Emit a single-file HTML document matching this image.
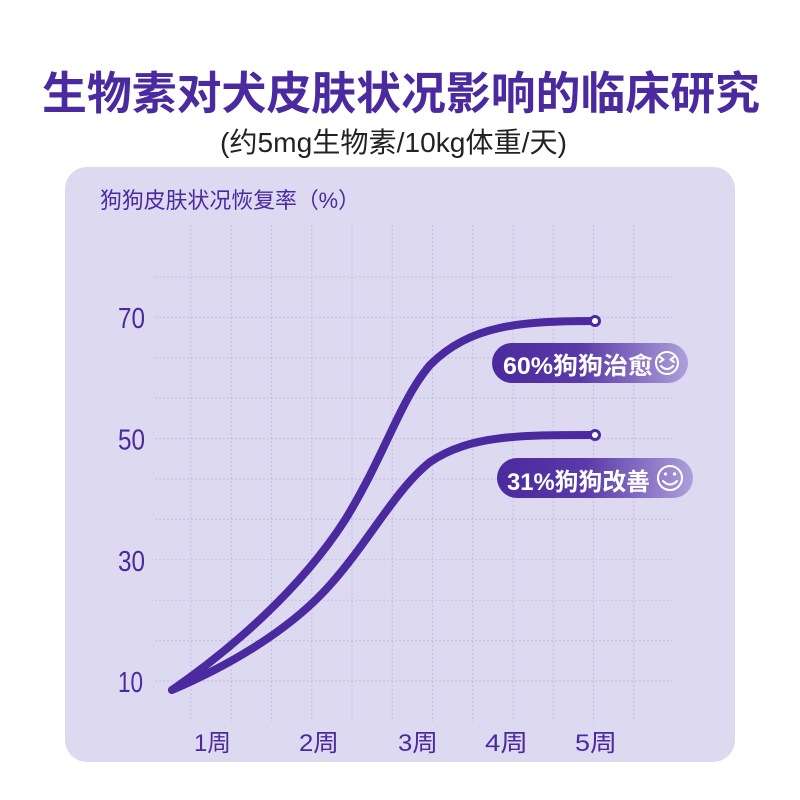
<!DOCTYPE html>
<html>
<head>
<meta charset="utf-8">
<style>
  html,body{margin:0;padding:0;background:#ffffff;}
  svg{display:block;}
  text{font-family:"Liberation Sans","Noto Sans CJK SC",sans-serif;}
</style>
</head>
<body>
<svg width="800" height="800" viewBox="0 0 800 800" xmlns="http://www.w3.org/2000/svg">
  <defs>
    <linearGradient id="pill" x1="0" y1="0" x2="1" y2="0">
      <stop offset="0" stop-color="#4a2a9d"/>
      <stop offset="0.45" stop-color="#5a3aa8"/>
      <stop offset="1" stop-color="#ad9fda"/>
    </linearGradient>
  </defs>
  <rect x="0" y="0" width="800" height="800" fill="#ffffff"/>

  <!-- Title -->
  <text x="42" y="109" font-size="45" font-weight="bold" fill="#4b2a9f" textLength="718" lengthAdjust="spacingAndGlyphs">生物素对犬皮肤状况影响的临床研究</text>
  <text x="220" y="152" font-size="28" fill="#222222" textLength="347" lengthAdjust="spacingAndGlyphs">(约5mg生物素/10kg体重/天)</text>

  <!-- Panel -->
  <rect x="65" y="167" width="670" height="595" rx="22" ry="22" fill="#dcd9f1"/>

  <!-- Y axis title -->
  <text x="100" y="208" font-size="22" fill="#4b2a9f" textLength="260" lengthAdjust="spacingAndGlyphs">狗狗皮肤状况恢复率（%）</text>

  <!-- Grid -->
  <g stroke="#c3bde0" stroke-width="1" stroke-dasharray="2,2" fill="none">
    <line x1="191" y1="225" x2="191" y2="722"/>
    <line x1="231.25" y1="225" x2="231.25" y2="722"/>
    <line x1="271.5" y1="225" x2="271.5" y2="722"/>
    <line x1="311.75" y1="225" x2="311.75" y2="722"/>
    <line x1="352" y1="225" x2="352" y2="722"/>
    <line x1="392.25" y1="225" x2="392.25" y2="722"/>
    <line x1="432.5" y1="225" x2="432.5" y2="722"/>
    <line x1="472.75" y1="225" x2="472.75" y2="722"/>
    <line x1="513" y1="225" x2="513" y2="722"/>
    <line x1="553.25" y1="225" x2="553.25" y2="722"/>
    <line x1="593.5" y1="225" x2="593.5" y2="722"/>
    <line x1="633.75" y1="225" x2="633.75" y2="722"/>

    <line x1="155" y1="277" x2="672" y2="277"/>
    <line x1="155" y1="317.4" x2="672" y2="317.4"/>
    <line x1="155" y1="357.8" x2="672" y2="357.8"/>
    <line x1="155" y1="398.2" x2="672" y2="398.2"/>
    <line x1="155" y1="438.6" x2="672" y2="438.6"/>
    <line x1="155" y1="479" x2="672" y2="479"/>
    <line x1="155" y1="519.4" x2="672" y2="519.4"/>
    <line x1="155" y1="559.8" x2="672" y2="559.8"/>
    <line x1="155" y1="600.2" x2="672" y2="600.2"/>
    <line x1="155" y1="640.6" x2="672" y2="640.6"/>
    <line x1="155" y1="681" x2="672" y2="681"/>
  </g>

  <!-- Y labels -->
  <g font-size="29" fill="#4b2a9f">
    <text x="118" y="328" textLength="27" lengthAdjust="spacingAndGlyphs">70</text>
    <text x="118" y="449.5" textLength="27" lengthAdjust="spacingAndGlyphs">50</text>
    <text x="118" y="571" textLength="27" lengthAdjust="spacingAndGlyphs">30</text>
    <text x="118" y="692" textLength="25" lengthAdjust="spacingAndGlyphs">10</text>
  </g>

  <!-- X labels -->
  <g font-size="24" fill="#4b2a9f">
    <text x="194" y="751" textLength="37" lengthAdjust="spacingAndGlyphs">1周</text>
    <text x="299" y="751" textLength="40" lengthAdjust="spacingAndGlyphs">2周</text>
    <text x="398" y="751" textLength="40" lengthAdjust="spacingAndGlyphs">3周</text>
    <text x="485" y="751" textLength="43" lengthAdjust="spacingAndGlyphs">4周</text>
    <text x="575" y="751" textLength="42" lengthAdjust="spacingAndGlyphs">5周</text>
  </g>

  <!-- Curves -->
  <g fill="none" stroke="#4a2a9e" stroke-width="8" stroke-linecap="round" stroke-linejoin="round">
    <path d="M172,690 C230,650 300,590 345,520 C385,455 400,400 430,365 C470,325 520,321 595,321"/>
    <path d="M172,690 C230,665 290,630 330,585 C370,540 395,490 430,462 C470,435 520,435 595,435"/>
  </g>
  <circle cx="595" cy="321" r="4.5" fill="#ffffff" stroke="#4a2a9e" stroke-width="3"/>
  <circle cx="595" cy="435" r="4.5" fill="#ffffff" stroke="#4a2a9e" stroke-width="3"/>

  <!-- Pill 1 -->
  <rect x="492" y="343" width="196" height="40" rx="20" ry="20" fill="url(#pill)"/>
  <text x="503" y="374" font-size="24" font-weight="600" fill="#ffffff" textLength="150" lengthAdjust="spacingAndGlyphs">60%狗狗治愈</text>
  <g fill="none" stroke="#ffffff" stroke-width="2" stroke-linecap="round" stroke-linejoin="round">
    <circle cx="667" cy="363" r="11"/>
    <polyline points="660,357 663.5,359.5 660,362"/>
    <polyline points="674,357 670.5,359.5 674,362"/>
    <path d="M661,366 Q667,372 673,366"/>
  </g>

  <!-- Pill 2 -->
  <rect x="497" y="458" width="196" height="40" rx="20" ry="20" fill="url(#pill)"/>
  <text x="507" y="490" font-size="24" font-weight="600" fill="#ffffff" textLength="143" lengthAdjust="spacingAndGlyphs">31%狗狗改善</text>
  <g fill="none" stroke="#ffffff" stroke-width="2" stroke-linecap="round">
    <circle cx="670" cy="478" r="12"/>
    <path d="M663,481 Q670,488 677,481"/>
  </g>
  <circle cx="665.5" cy="474" r="1.6" fill="#ffffff"/>
  <circle cx="674.5" cy="474" r="1.6" fill="#ffffff"/>
</svg>
</body>
</html>
